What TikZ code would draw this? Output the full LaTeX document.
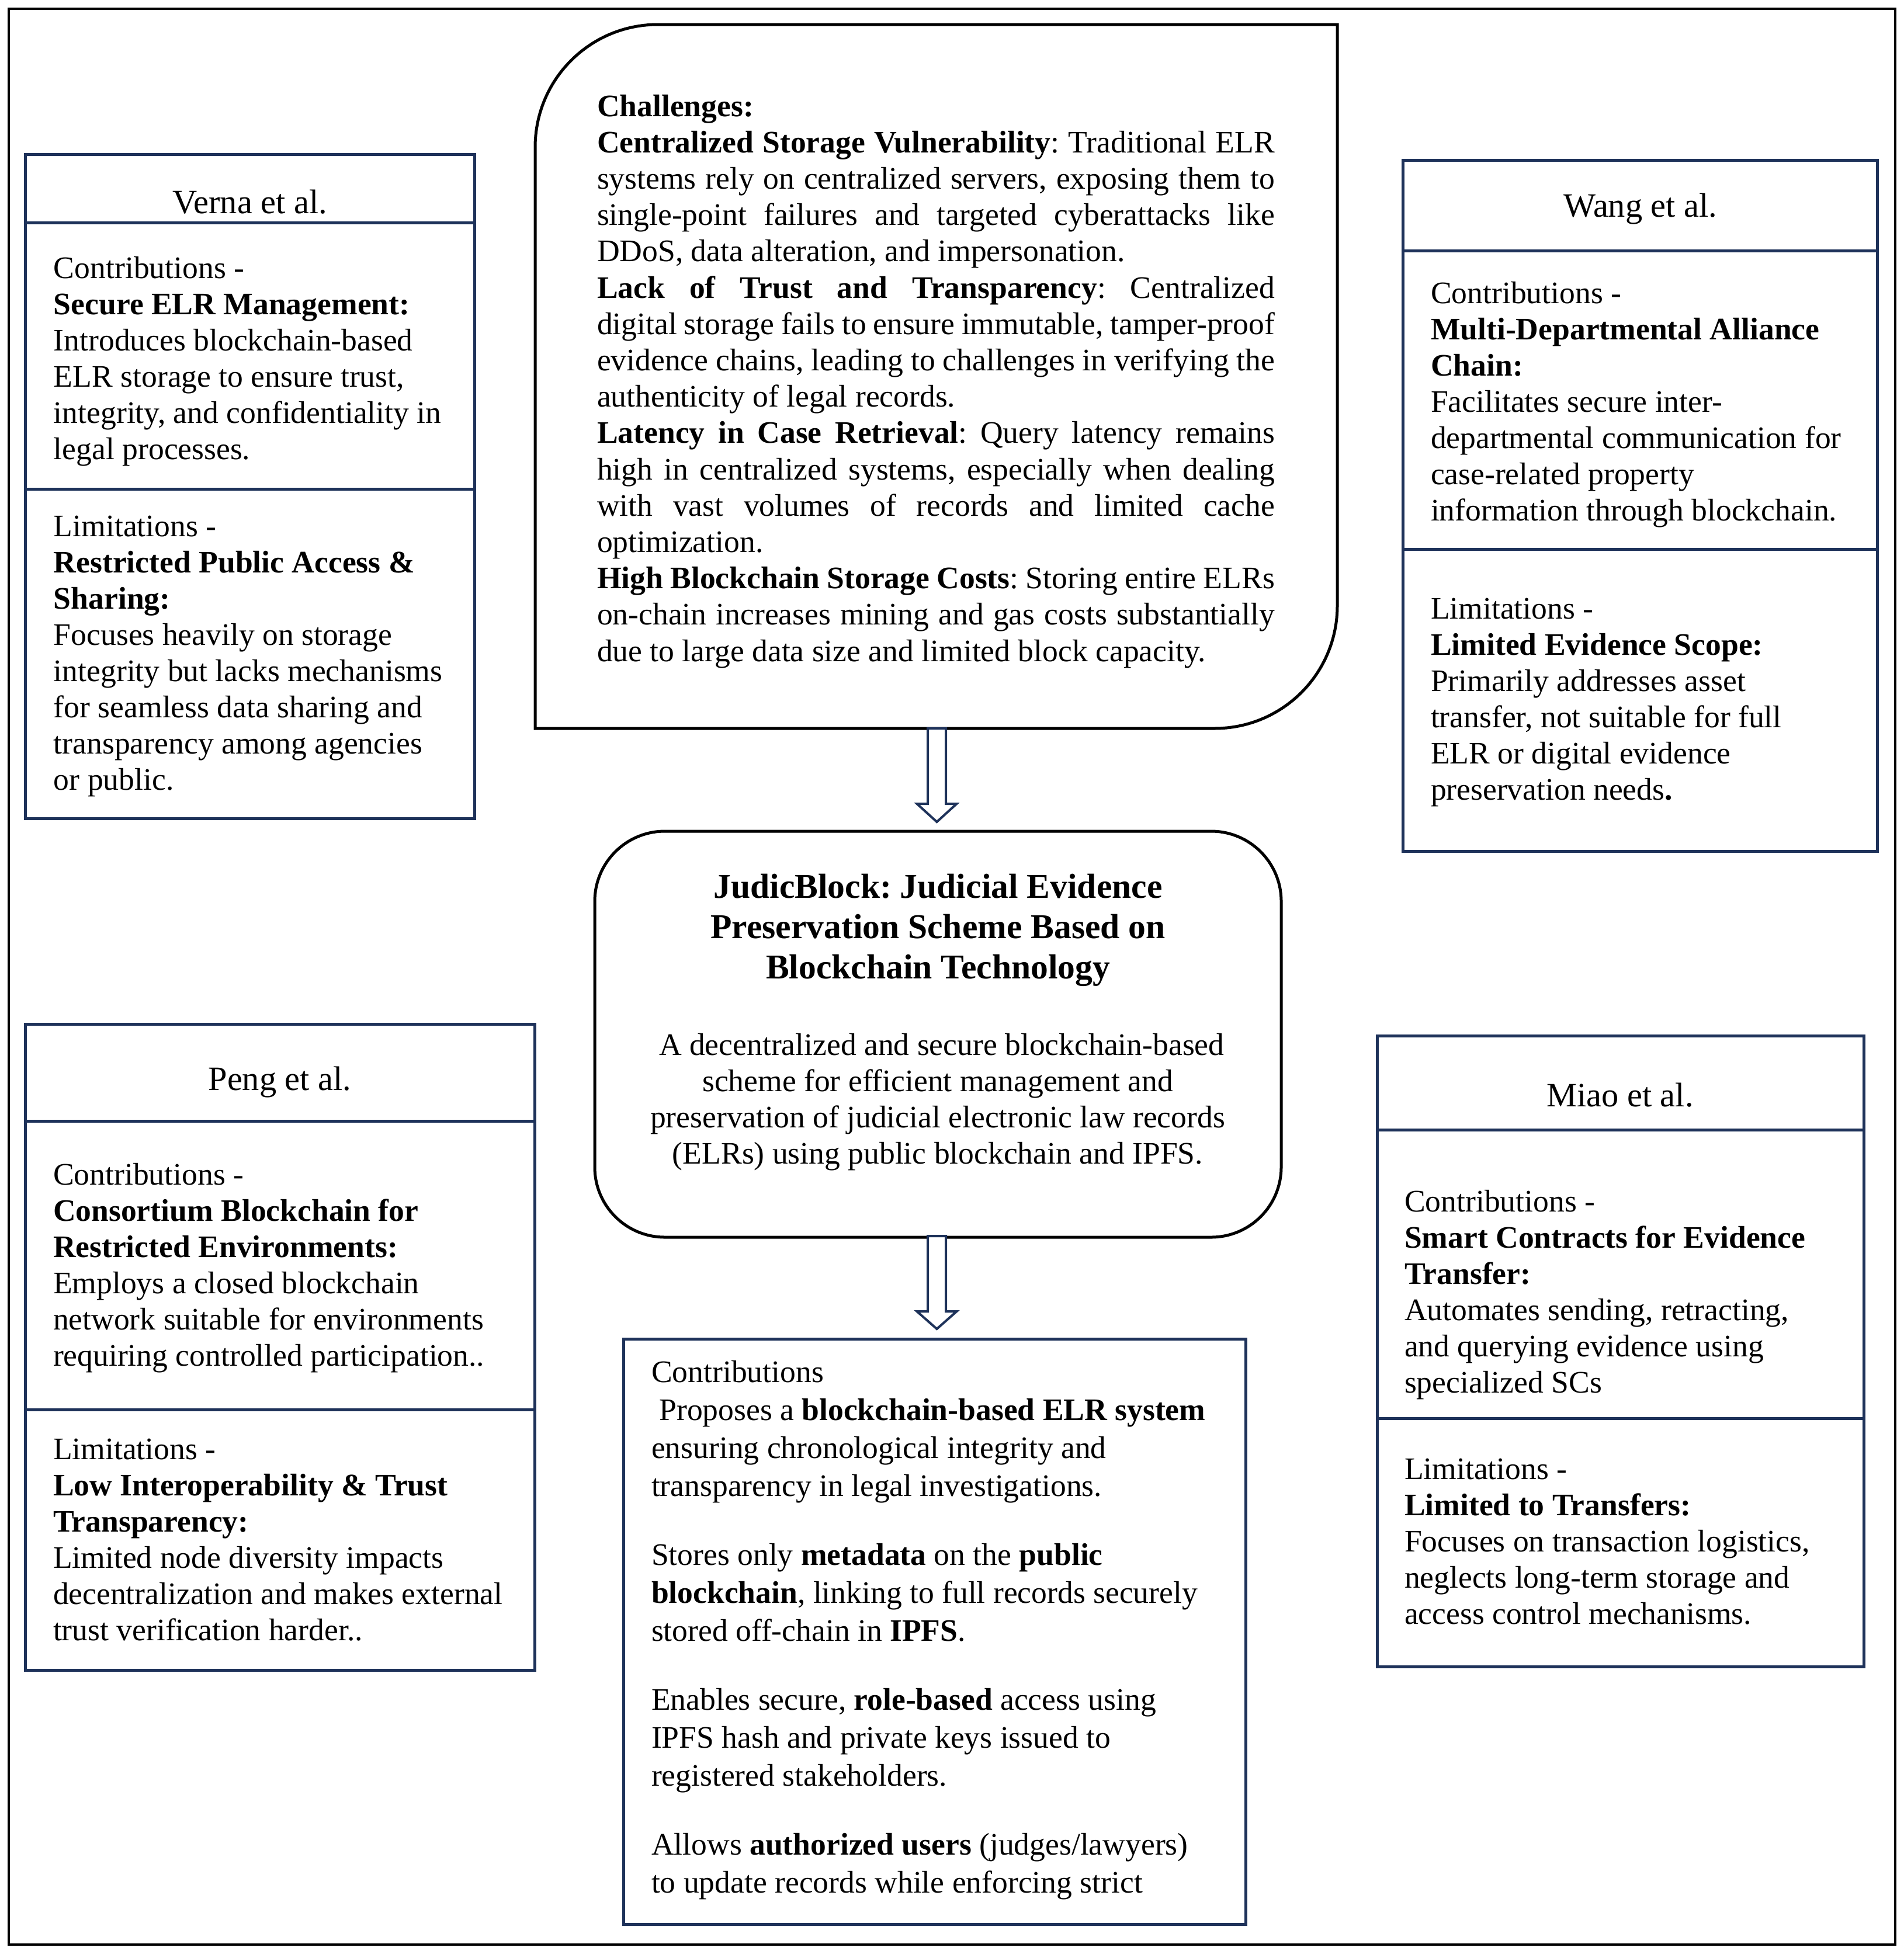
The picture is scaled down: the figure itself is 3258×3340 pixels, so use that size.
\documentclass[tikz,border=0pt]{standalone}
\usepackage{fontspec}
\setmainfont{Liberation Serif}
\usetikzlibrary{calc}
\definecolor{navy}{RGB}{30,50,90}
\newcommand\sidetext[1]{\parbox[t]{260pt}{\frenchspacing\fontsize{13.4}{15.5}\selectfont\raggedright #1}}
\newcommand\jline[1]{\makebox[290pt][s]{#1}}
\begin{document}
\frenchspacing
\begin{tikzpicture}[x=0.25pt,y=-0.25pt,
  navybox/.style={draw=navy,line width=1.25pt,rectangle,inner sep=0pt},
  navyline/.style={draw=navy,line width=1.25pt},
  blackline/.style={draw=black,line width=1.25pt},
  txt/.style={anchor=base west,inner sep=0pt,outer sep=0pt},
  hdr/.style={anchor=base,inner sep=0pt,outer sep=0pt,font=\fontsize{14.6}{17}\selectfont},
  blockarrow/.style={draw=navy,line width=1pt,fill=white,line join=miter}]
\useasboundingbox (0,0) rectangle (3258,3340);
% outer frame
\draw[line width=1pt] (15,15) rectangle (3244,3329);

% ---------- Verna ----------
\node[navybox,minimum width=192.25pt,minimum height=284.25pt] (verna) at (427.5,832.5) {};
\draw[navyline] (43,381) -- (812,381);
\draw[navyline] (43,837) -- (812,837);
\node[hdr] (vernaH) at (428,365) {Verna et al.};
\node[txt] (vernaC) at (92,476) {\sidetext{Contributions -\\
\textbf{Secure ELR Management:}\\
Introduces blockchain-based\\
ELR storage to ensure trust,\\
integrity, and confidentiality in\\
legal processes.}};
\node[txt] (vernaL) at (92,918) {\sidetext{Limitations -\\
\textbf{Restricted Public Access \&}\\
\textbf{Sharing:}\\
Focuses heavily on storage\\
integrity but lacks mechanisms\\
for seamless data sharing and\\
transparency among agencies\\
or public.}};

% ---------- Wang ----------
\node[navybox,minimum width=203pt,minimum height=295.75pt] (wang) at (2807,865.5) {};
\draw[navyline] (2401,429) -- (3213,429);
\draw[navyline] (2401,940) -- (3213,940);
\node[hdr] (wangH) at (2808,371) {Wang et al.};
\node[txt] (wangC) at (2449,519) {\sidetext{Contributions -\\
\textbf{Multi-Departmental Alliance}\\
\textbf{Chain:}\\
Facilitates secure inter-\\
departmental communication for\\
case-related property\\
information through blockchain.}};
\node[txt] (wangL) at (2449,1059) {\sidetext{Limitations -\\
\textbf{Limited Evidence Scope:}\\
Primarily addresses asset\\
transfer, not suitable for full\\
ELR or digital evidence\\
preservation needs\textbf{.}}};

% ---------- Peng ----------
\node[navybox,minimum width=218pt,minimum height=276.5pt] (peng) at (479,2306) {};
\draw[navyline] (43,1919) -- (915,1919);
\draw[navyline] (43,2413) -- (915,2413);
\node[hdr] (pengH) at (479,1866) {Peng et al.};
\node[txt] (pengC) at (91,2028) {\sidetext{Contributions -\\
\textbf{Consortium Blockchain for}\\
\textbf{Restricted Environments:}\\
Employs a closed blockchain\\
network suitable for environments\\
requiring controlled participation..}};
\node[txt] (pengL) at (91,2498) {\sidetext{Limitations -\\
\textbf{Low Interoperability \& Trust}\\
\textbf{Transparency:}\\
Limited node diversity impacts\\
decentralization and makes external\\
trust verification harder..}};

% ---------- Miao ----------
\node[navybox,minimum width=208.25pt,minimum height=270pt] (miao) at (2773.5,2313) {};
\draw[navyline] (2357,1934) -- (3190,1934);
\draw[navyline] (2357,2428) -- (3190,2428);
\node[hdr] (miaoH) at (2773,1894) {Miao et al.};
\node[txt] (miaoC) at (2404,2074) {\sidetext{Contributions -\\
\textbf{Smart Contracts for Evidence}\\
\textbf{Transfer:}\\
Automates sending, retracting,\\
and querying evidence using\\
specialized SCs}};
\node[txt] (miaoL) at (2404,2532) {\sidetext{Limitations -\\
\textbf{Limited to Transfers:}\\
Focuses on transaction logistics,\\
neglects long-term storage and\\
access control mechanisms.}};

% ---------- Challenges ----------
\draw[blackline] (916,1247) -- (916,252) .. controls (916,136) and (1010,42) .. (1126,42)
  -- (2289,42) -- (2289,1037) .. controls (2289,1153) and (2195,1247) .. (2079,1247) -- cycle;
\coordinate (chalS) at (1603.5,1247);
\node[txt] (chalT) at (1022,199) {\parbox[t]{292pt}{\frenchspacing\fontsize{13.4}{15.55}\selectfont\raggedright
\textbf{Challenges:}\\
\jline{\textbf{Centralized Storage Vulnerability}: Traditional ELR}\\
\jline{systems rely on centralized servers, exposing them to}\\
\jline{single-point failures and targeted cyberattacks like}\\
DDoS, data alteration, and impersonation.\\
\jline{\textbf{Lack of Trust and Transparency}: Centralized}\\
\jline{digital storage fails to ensure immutable, tamper-proof}\\
\jline{evidence chains, leading to challenges in verifying the}\\
authenticity of legal records.\\
\jline{\textbf{Latency in Case Retrieval}: Query latency remains}\\
\jline{high in centralized systems, especially when dealing}\\
\jline{with vast volumes of records and limited cache}\\
optimization.\\
\jline{\textbf{High Blockchain Storage Costs}: Storing entire ELRs}\\
\jline{on-chain increases mining and gas costs substantially}\\
due to large data size and limited block capacity.}};

% ---------- JudicBlock ----------
\node[draw=black,line width=1.25pt,rectangle,rounded corners=30pt,inner sep=0pt,
  minimum width=293.75pt,minimum height=173.75pt] (judic) at (1605.5,1770.5) {};
\node[anchor=base,inner sep=0pt] (jtitle) at (1605.5,1537) {\parbox[t]{320pt}{\centering\frenchspacing\fontsize{14.9}{17.25}\selectfont\bfseries
JudicBlock: Judicial Evidence\\
Preservation Scheme Based on\\
Blockchain Technology}};
\node[anchor=base,inner sep=0pt] (jbody) at (1605,1806) {\parbox[t]{300pt}{\centering\frenchspacing\fontsize{13.4}{15.5}\selectfont
\hspace*{0.25em}A decentralized and secure blockchain-based\\
scheme for efficient management and\\
preservation of judicial electronic law records\\
(ELRs) using public blockchain and IPFS.}};

% ---------- Bottom contributions ----------
\node[navybox,minimum width=266.25pt,minimum height=250.5pt] (contrib) at (1599.5,2793) {};
\node[txt] (contribT) at (1115,2366) {\parbox[t]{270pt}{\frenchspacing\fontsize{13.4}{16.25}\selectfont\raggedright
Contributions\\
\hspace*{0.25em}Proposes a \textbf{blockchain-based ELR system}\\
ensuring chronological integrity and\\
transparency in legal investigations.\\[13.25pt]
Stores only \textbf{metadata} on the \textbf{public}\\
\textbf{blockchain}, linking to full records securely\\
stored off-chain in \textbf{IPFS}.\\[13.25pt]
Enables secure, \textbf{role-based} access using\\
IPFS hash and private keys issued to\\
registered stakeholders.\\[13.25pt]
Allows \textbf{authorized users} (judges/lawyers)\\
to update records while enforcing strict}};

% ---------- Block arrows ----------
\coordinate (judN) at (1603.5,1407);
\coordinate (judS) at (1603.5,2116);
\coordinate (conN) at (1603.5,2275);
\draw[blockarrow] ($(chalS)+(-15.5,0)$) -- ($(judN)+(-15.5,-31)$) -- ($(judN)+(-34,-31)$) -- (judN)
  -- ($(judN)+(34,-31)$) -- ($(judN)+(15.5,-31)$) -- ($(chalS)+(15.5,0)$) -- cycle;
\draw[blockarrow] ($(judS)+(-15.5,0)$) -- ($(conN)+(-15.5,-30)$) -- ($(conN)+(-34,-30)$) -- (conN)
  -- ($(conN)+(34,-30)$) -- ($(conN)+(15.5,-30)$) -- ($(judS)+(15.5,0)$) -- cycle;
\end{tikzpicture}
\end{document}
